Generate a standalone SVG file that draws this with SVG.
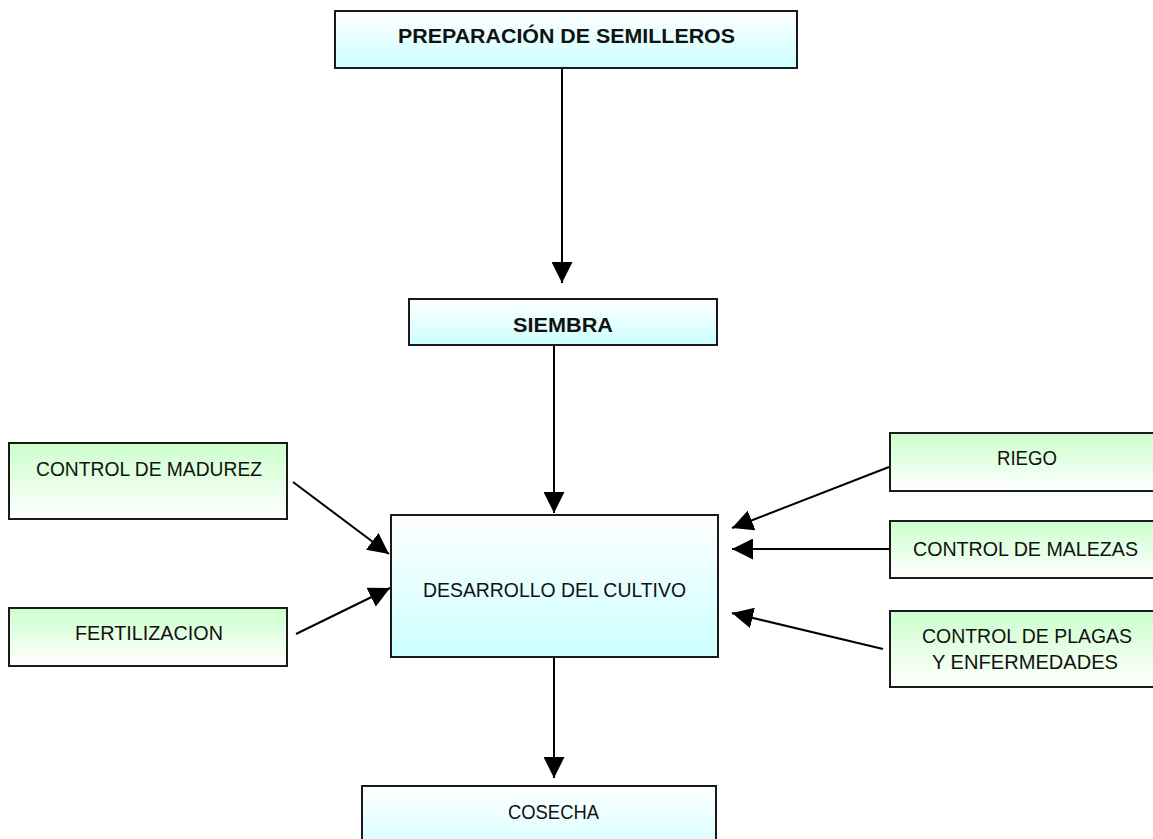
<svg xmlns="http://www.w3.org/2000/svg" width="1153" height="839" viewBox="0 0 1153 839">
<defs>
<linearGradient id="gBlue" x1="0" y1="0" x2="0" y2="1">
<stop offset="0" stop-color="#ffffff"/>
<stop offset="1" stop-color="#ccffff"/>
</linearGradient>
<linearGradient id="gGreen" x1="0" y1="0" x2="0" y2="1">
<stop offset="0" stop-color="#ccffcc"/>
<stop offset="1" stop-color="#ffffff"/>
</linearGradient>
<marker id="arr" markerUnits="userSpaceOnUse" markerWidth="21" markerHeight="21" refX="21" refY="10.5" orient="auto" viewBox="0 0 21 21">
<path d="M0,0 L21,10.5 L0,21 z" fill="#000"/>
</marker>
<style>
.blue{fill:url(#gBlue);stroke:#1a1a1a;stroke-width:2}
.green{fill:url(#gGreen);stroke:#1a1a1a;stroke-width:2}
.t{font-family:"Liberation Sans",Arial,sans-serif;font-size:20.5px;fill:#111;text-anchor:middle}
.b{font-weight:bold}
.c{stroke:#000;stroke-width:2;fill:none;marker-end:url(#arr)}
</style>
</defs>
<rect width="1153" height="839" fill="#fff"/>
<g id="connectors">
<line class="c" x1="562" y1="68" x2="562" y2="283"/>
<line class="c" x1="554" y1="345" x2="554" y2="513"/>
<line class="c" x1="554" y1="657" x2="554" y2="778"/>
<line class="c" x1="293" y1="482" x2="389" y2="554"/>
<line class="c" x1="296" y1="634" x2="390" y2="588"/>
<line class="c" x1="889" y1="467" x2="732" y2="528"/>
<line class="c" x1="889" y1="549" x2="732" y2="549"/>
<line class="c" x1="883" y1="649" x2="732" y2="613"/>
</g>
<g id="preparacion">
<rect class="blue" x="335" y="11" width="462" height="57"/>
<text class="t b" x="566.5" y="43" textLength="337" lengthAdjust="spacingAndGlyphs">PREPARACIÓN DE SEMILLEROS</text>
</g>
<g id="siembra">
<rect class="blue" x="409" y="299" width="308" height="46"/>
<text class="t b" x="563" y="332" textLength="100" lengthAdjust="spacingAndGlyphs">SIEMBRA</text>
</g>
<g id="desarrollo">
<rect class="blue" x="391" y="515" width="327" height="142"/>
<text class="t" x="554.5" y="597" textLength="263" lengthAdjust="spacingAndGlyphs">DESARROLLO DEL CULTIVO</text>
</g>
<g id="cosecha">
<rect class="blue" x="362" y="786" width="354" height="80"/>
<text class="t" x="553.5" y="819" textLength="91" lengthAdjust="spacingAndGlyphs">COSECHA</text>
</g>
<g id="madurez">
<rect class="green" x="9" y="443" width="278" height="76"/>
<text class="t" x="149" y="476" textLength="226" lengthAdjust="spacingAndGlyphs">CONTROL DE MADUREZ</text>
</g>
<g id="fertilizacion">
<rect class="green" x="9" y="608" width="278" height="58"/>
<text class="t" x="149" y="640" textLength="148" lengthAdjust="spacingAndGlyphs">FERTILIZACION</text>
</g>
<g id="riego">
<rect class="green" x="890" y="433" width="278" height="58"/>
<text class="t" x="1027" y="465" textLength="60" lengthAdjust="spacingAndGlyphs">RIEGO</text>
</g>
<g id="malezas">
<rect class="green" x="890" y="521" width="278" height="57"/>
<text class="t" x="1025.5" y="556" textLength="225" lengthAdjust="spacingAndGlyphs">CONTROL DE MALEZAS</text>
</g>
<g id="plagas">
<rect class="green" x="890" y="611" width="278" height="76"/>
<text class="t" x="1027" y="643" textLength="210" lengthAdjust="spacingAndGlyphs">CONTROL DE PLAGAS</text>
<text class="t" x="1025" y="669" textLength="186" lengthAdjust="spacingAndGlyphs">Y ENFERMEDADES</text>
</g>
</svg>
